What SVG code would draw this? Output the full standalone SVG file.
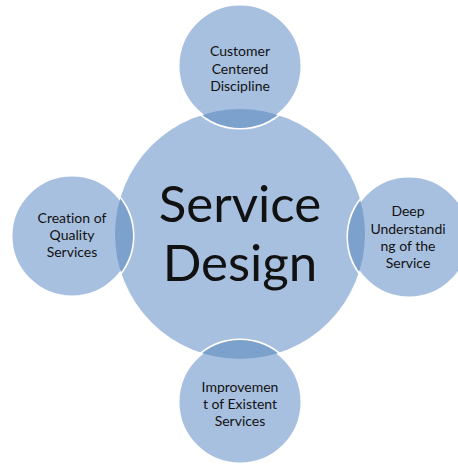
<svg xmlns="http://www.w3.org/2000/svg" width="458" height="464" viewBox="0 0 458 464">
<style>
.fill{fill:#A8C0DF}
.sat{fill:#A8C0DF;stroke:#FFFFFF;stroke-width:3}
.lens{fill:#7DA1CD}
.t{font-family:Lato,"Open Sans",sans-serif;font-size:14px;fill:#111111;text-anchor:middle;font-variant-ligatures:none}
.big{font-family:Lato,"Open Sans",sans-serif;font-size:51px;fill:#111111;text-anchor:middle;font-variant-ligatures:none}
</style>
<defs>
<clipPath id="cm"><circle cx="240" cy="234" r="125"/></clipPath>
</defs>
<g id="center">
<circle class="fill" cx="240" cy="234" r="125"/>
<text class="big" x="240" y="222">Service</text>
<text class="big" x="240" y="281">Design</text>
</g>
<g id="top">
<circle class="sat" cx="240" cy="66" r="62"/>
<circle class="lens" cx="240" cy="66" r="62" clip-path="url(#cm)"/>
<text class="t" x="240" y="56">Customer</text>
<text class="t" x="240" y="74">Centered</text>
<text class="t" x="240" y="91">Discipline</text>
</g>
<g id="right">
<circle class="sat" cx="409" cy="237" r="61"/>
<circle class="lens" cx="409" cy="237" r="61" clip-path="url(#cm)"/>
<text class="t" x="408" y="216">Deep</text>
<text class="t" x="408" y="234">Understandi</text>
<text class="t" x="408" y="251">ng of the</text>
<text class="t" x="408" y="268">Service</text>
</g>
<g id="left">
<circle class="sat" cx="72" cy="236" r="61"/>
<circle class="lens" cx="72" cy="236" r="61" clip-path="url(#cm)"/>
<text class="t" x="72" y="223">Creation of</text>
<text class="t" x="72" y="240">Quality</text>
<text class="t" x="72" y="257">Services</text>
</g>
<g id="bottom">
<circle class="sat" cx="240" cy="402" r="62"/>
<circle class="lens" cx="240" cy="402" r="62" clip-path="url(#cm)"/>
<text class="t" x="240" y="392">Improvemen</text>
<text class="t" x="240" y="409">t of Existent</text>
<text class="t" x="240" y="426">Services</text>
</g>
<g id="connectors"></g>
</svg>
